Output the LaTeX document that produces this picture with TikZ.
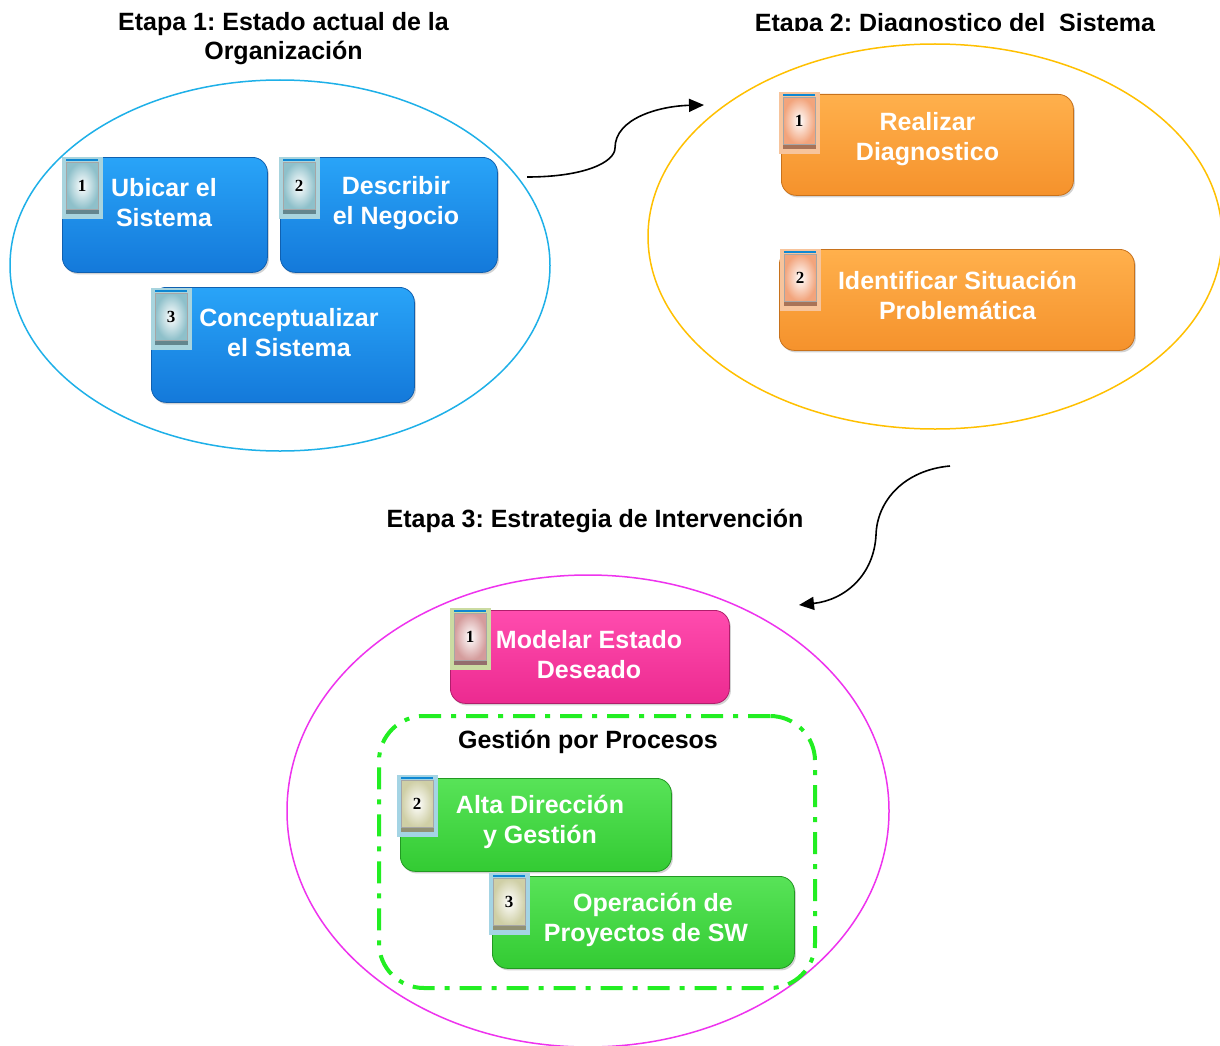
\documentclass[tikz,border=0pt]{standalone}
\usepackage{fontspec}
\setmainfont{Liberation Sans}
\newfontfamily\badgefont{Liberation Serif}
\usetikzlibrary{shapes.geometric,arrows.meta,shadows}
\frenchspacing

\definecolor{blueTop}{HTML}{29A4F8}
\definecolor{blueBot}{HTML}{1479DA}
\definecolor{blueEdge}{HTML}{1060B0}
\definecolor{orangeTop}{HTML}{FFB04C}
\definecolor{orangeBot}{HTML}{F5922C}
\definecolor{orangeEdge}{HTML}{C8721C}
\definecolor{pinkTop}{HTML}{FF4CAE}
\definecolor{pinkBot}{HTML}{EC2A90}
\definecolor{pinkEdge}{HTML}{B01E6C}
\definecolor{greenTop}{HTML}{58E358}
\definecolor{greenBot}{HTML}{33CB33}
\definecolor{greenEdge}{HTML}{229922}
\definecolor{ringBlue}{HTML}{1EB0E8}
\definecolor{ringGold}{HTML}{FFC000}
\definecolor{ringMagenta}{HTML}{EE33EE}
\definecolor{dashGreen}{HTML}{22EE22}
% badge frame and paper tints
\definecolor{frameBlue}{HTML}{A8D4DE}
\definecolor{paperBlue}{HTML}{8EC0CA}
\definecolor{frameOrange}{HTML}{F7C49C}
\definecolor{paperOrange}{HTML}{F2A47C}
\definecolor{framePink}{HTML}{CBDBA2}
\definecolor{paperPink}{HTML}{D49C9C}
\definecolor{frameGreen}{HTML}{A4D4E4}
\definecolor{paperGreen}{HTML}{CFCFA6}

\tikzset{
  stage/.style={draw, ellipse, line width=1.5pt, inner sep=0pt},
  task/.style={rounded corners=15pt, anchor=north west, inner sep=0pt,
    line width=0.8pt, drop shadow={shadow xshift=1.5pt, shadow yshift=-2pt, opacity=0.35}},
  bluetask/.style={task, top color=blueTop, bottom color=blueBot, draw=blueEdge},
  orangetask/.style={task, top color=orangeTop, bottom color=orangeBot, draw=orangeEdge},
  pinktask/.style={task, top color=pinkTop, bottom color=pinkBot, draw=pinkEdge},
  greentask/.style={task, top color=greenTop, bottom color=greenBot, draw=greenEdge},
  tasktext/.style={text=white, font=\fontsize{25}{30}\selectfont\bfseries, align=center, inner sep=0pt},
  heading/.style={font=\fontsize{25}{29}\selectfont\bfseries, align=center, inner sep=0pt},
  badgeframe/.style={rectangle, anchor=north west, minimum width=41pt, minimum height=62pt, inner sep=0pt},
  badgepaper/.style={rectangle, anchor=north west, minimum width=32pt, minimum height=47pt,
    inner sep=0pt, draw=black!35, line width=0.4pt},
  flow/.style={line width=1.6pt, -{Triangle[length=15pt,width=13pt]}},
}

% numbered page badge: name, x, y, number, frame colour, paper colour
\newcommand\taskbadge[6]{%
  \node[badgeframe, fill=#5] (#1) at (#2,#3) {};
  \draw[line width=1.2pt, draw=cyan!70!blue] ([xshift=4pt,yshift=-3pt]#1.north west) -- ([xshift=-5pt,yshift=-3pt]#1.north east);
  \fill[#6!70!black] ([xshift=4pt,yshift=-51pt]#1.north west) rectangle ([xshift=-4pt,yshift=-57pt]#1.north east);
  \node[badgepaper, inner color=white, outer color=#6] (#1p) at ([xshift=4pt,yshift=-5pt]#1.north west) {};
  \node[font=\badgefont\fontsize{17}{17}\selectfont\bfseries, inner sep=0pt] (#1n) at (#1p.center) {#4};
}

\begin{document}
\begin{tikzpicture}[x=1pt,y=-1pt]
\useasboundingbox (0,0) rectangle (1220,1046);
\clip (0,0) rectangle (1220,1046);
\fill[white] (0,0) rectangle (1220,1046);

% ---- stage 1 ----
\node[heading] (h1) at (283.5,39) {Etapa 1: Estado actual de la\\Organización};
\node[stage, draw=ringBlue, minimum width=540pt, minimum height=371pt] (s1) at (280,265.5) {};

\node[bluetask, minimum width=205pt, minimum height=115pt] (a1) at (62,157) {};
\taskbadge{a1b}{62}{157}{1}{frameBlue}{paperBlue}
\node[tasktext] (a1t) at (164,203) {Ubicar el\\Sistema};

\node[bluetask, minimum width=217pt, minimum height=115pt] (a2) at (280,157) {};
\taskbadge{a2b}{279}{157}{2}{frameBlue}{paperBlue}
\node[tasktext] (a2t) at (396,203) {Describir\\el Negocio};

\node[bluetask, minimum width=263pt, minimum height=115pt] (a3) at (151,287) {};
\taskbadge{a3b}{151}{288}{3}{frameBlue}{paperBlue}
\node[tasktext] (a3t) at (289,333) {Conceptualizar\\el Sistema};

% ---- stage 2 ----
\begin{scope}
  \clip (700,0) rectangle (1220,31);
  \node[heading, anchor=base] (h2) at (955,32) {Etapa 2: Diagnostico del\ \ Sistema};
\end{scope}
\node[stage, draw=ringGold, minimum width=574pt, minimum height=385pt] (s2) at (935,236.5) {};

\node[orangetask, minimum width=292pt, minimum height=101pt] (b1) at (781,94) {};
\taskbadge{b1b}{779}{92}{1}{frameOrange}{paperOrange}
\node[tasktext] (b1t) at (927.5,139) {Realizar\\Diagnostico};

\node[orangetask, minimum width=355pt, minimum height=101pt] (b2) at (779,249) {};
\taskbadge{b2b}{780}{249}{2}{frameOrange}{paperOrange}
\node[tasktext] (b2t) at (957.5,295) {Identificar Situación\\Problemática};

% ---- stage 3 ----
\node[heading, anchor=base] (h3) at (595,527) {Etapa 3: Estrategia de Intervención};
\node[stage, draw=ringMagenta, minimum width=602pt, minimum height=472pt] (s3) at (588,811) {};

\node[pinktask, minimum width=279pt, minimum height=93pt] (c1) at (450,610) {};
\taskbadge{c1b}{450}{608}{1}{framePink}{paperPink}
\node[tasktext] (c1t) at (589,655) {Modelar Estado\\Deseado};

\node[draw=dashGreen, line width=4pt, rounded corners=45pt,
      dash pattern=on 22pt off 10pt on 5pt off 10pt,
      anchor=north west, minimum width=436pt, minimum height=272pt, inner sep=0pt] (gp) at (377,714) {};
\node[heading, anchor=base] (gpt) at (588,748) {Gestión por Procesos};

\node[greentask, minimum width=271pt, minimum height=93pt] (c2) at (400,778) {};
\taskbadge{c2b}{397}{775}{2}{frameGreen}{paperGreen}
\node[tasktext] (c2t) at (540,822) {Alta Dirección\\y Gestión};

\node[greentask, minimum width=302pt, minimum height=92pt] (c3) at (492,876) {};
\taskbadge{c3b}{489}{873}{3}{frameGreen}{paperGreen}
\node[tasktext] (c3t) at (646,920) {\hspace*{14pt}Operación de\\Proyectos de SW};

% ---- flow between stages ----
\coordinate (f1s) at (527,177);
\coordinate (f1e) at (704,105);
\draw[flow] (f1s) .. controls (585,177) and (615,162) .. (615,148)
            .. controls (615,118) and (660,106) .. (f1e);
\coordinate (f2s) at (950,466);
\coordinate (f2e) at (799,605);
\draw[flow] (f2s) .. controls (905,470) and (877,500) .. (876,535)
            .. controls (874,575) and (845,600) .. (f2e);
\end{tikzpicture}
\end{document}
